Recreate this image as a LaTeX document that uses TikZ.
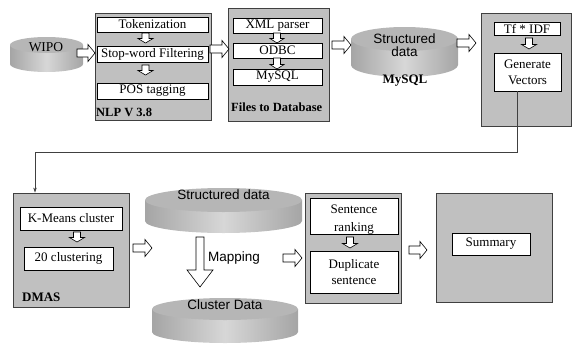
\documentclass[tikz,border=0pt]{standalone}
\usepackage{fontspec}
\setmainfont{Liberation Serif}
\setsansfont{Liberation Sans}
\usetikzlibrary{arrows.meta}
\definecolor{panelgray}{RGB}{192,192,192}
\definecolor{paneledge}{RGB}{64,64,64}
\definecolor{cylside}{RGB}{165,165,165}
\definecolor{cylmid}{RGB}{215,215,215}
\definecolor{cyltop}{RGB}{182,182,182}
\newcommand\mycyl[5]{%
  \shade[left color=cylside,right color=cylside,middle color=cylmid]
    ({#1-#3},#2) -- ({#1-#3},#5) arc[start angle=180,end angle=0,x radius=#3,y radius=#4] -- ({#1+#3},#2) -- cycle;
  \fill[cyltop] (#1,#2) ellipse[x radius=#3,y radius=#4];
}
% horizontal block arrow: xa, xb, y, shaft half, head half, head length
\newcommand\harr[6]{%
  \draw[barrow] (#1,{#3-#4}) -- ({#2-#6},{#3-#4}) -- ({#2-#6},{#3-#5}) -- (#2,#3)
    -- ({#2-#6},{#3+#5}) -- ({#2-#6},{#3+#4}) -- (#1,{#3+#4}) -- cycle;}
% vertical (downward) block arrow: x, ya, yb, shaft half, head half, head length
\newcommand\varr[6]{%
  \draw[barrow] ({#1-#4},#2) -- ({#1-#4},{#3-#6}) -- ({#1-#5},{#3-#6}) -- (#1,#3)
    -- ({#1+#5},{#3-#6}) -- ({#1+#4},{#3-#6}) -- ({#1+#4},#2) -- cycle;}
\tikzset{
  panel/.style={draw=paneledge,fill=panelgray,line width=0.9pt,inner sep=0pt},
  wbox/.style={draw=black,fill=white,line width=0.7pt,inner sep=0pt,align=center,
    font=\fontsize{13}{17}\selectfont},
  lbl/.style={font=\bfseries\fontsize{13}{15}\selectfont,inner sep=0pt},
  stxt/.style={font=\sffamily\fontsize{13.5}{13}\selectfont,inner sep=0pt,align=center},
  rtxt/.style={font=\fontsize{13.5}{15}\selectfont,inner sep=0pt},
  barrow/.style={draw=black,fill=white,line width=0.6pt,line join=miter},
  conn/.style={draw=black!75,line width=0.6pt,-{Stealth[length=5pt,width=3.5pt]}}
}
\begin{document}
\begin{tikzpicture}[x=1pt,y=-1pt]
\useasboundingbox (0,0) rectangle (572,343);
% cylinders
\mycyl{46.5}{45}{36.5}{8}{64}
\mycyl{404.5}{39}{53.5}{12}{65}
\mycyl{223.5}{200}{78.5}{12}{221}
\mycyl{225}{309}{73}{11}{332}
\node[rtxt] (wipo) at (46,47) {WIPO};
\node[stxt] (sd1) at (404.5,45.5) {Structured\\data};
\node[lbl] (mysqllbl) at (405,81) {MySQL};
\node[stxt] (sd2) at (223.5,195) {Structured data};
\node[stxt] (cd) at (225,305) {Cluster Data};
% NLP panel
\node[panel,minimum width=116pt,minimum height=107pt] (nlp) at (153,66.5) {};
\node[wbox,minimum width=111pt,minimum height=15pt] (tok) at (152.5,24.5) {Tokenization};
\node[wbox,minimum width=111pt,minimum height=16pt] (stop) at (152.5,54) {Stop-word Filtering};
\node[wbox,minimum width=111pt,minimum height=16pt] (pos) at (152.5,91) {POS tagging};
\node[lbl,anchor=west,font=\bfseries\fontsize{12.5}{14}\selectfont] (nlplbl) at (96,112) {NLP V 3.8};
\varr{145.5}{33}{43}{3.5}{7.5}{4.5}
\varr{145.5}{65}{75}{3.5}{7.5}{4.5}
% Files panel
\node[panel,minimum width=101pt,minimum height=113pt] (files) at (278.5,64.5) {};
\node[wbox,minimum width=89pt,minimum height=15pt] (xml) at (277.5,25.5) {XML parser};
\node[wbox,minimum width=89pt,minimum height=15pt] (odbc) at (277.5,50.5) {ODBC};
\node[wbox,minimum width=89pt,minimum height=16pt] (mysqlb) at (277.5,77) {MySQL};
\node[lbl,anchor=west,font=\bfseries\fontsize{12.5}{14}\selectfont] (fileslbl) at (231,107) {Files to Database};
\varr{277}{33}{43}{3.5}{7}{4.5}
\varr{277}{58}{69}{3.5}{7}{4.5}
% TF panel
\node[panel,minimum width=90pt,minimum height=113pt] (tfp) at (526,69.5) {};
\node[wbox,minimum width=66pt,minimum height=13pt] (tf) at (527,28.5) {Tf * IDF};
\node[wbox,minimum width=67pt,minimum height=38pt,font=\fontsize{13}{16}\selectfont] (gen) at (527.5,72) {Generate\\Vectors};
\varr{529}{38}{49}{3.5}{7.5}{4.5}
% horizontal block arrows top row
\harr{77}{95}{53}{4}{8.5}{7}
\harr{210}{229}{49}{4}{8.5}{7}
\harr{332}{351}{45}{4}{8.5}{7}
\harr{457}{476}{43}{4}{8.5}{7}
% DMAS panel
\node[panel,minimum width=116pt,minimum height=114pt] (dmas) at (71,250) {};
\node[wbox,minimum width=102pt,minimum height=23pt] (km) at (71,218.5) {K-Means cluster};
\node[wbox,minimum width=89pt,minimum height=23pt] (c20) at (68.5,258.5) {20 clustering};
\node[lbl,anchor=west] (dmaslbl) at (22,297) {DMAS};
\varr{77}{232}{242}{3.5}{7.5}{4.5}
% connector
\coordinate (c1) at (517,152);
\coordinate (c2) at (35,152);
\draw[conn] (gen.south -| c1) -- (c1) -- (c2) -- (c2 |- dmas.north);
% mapping
\varr{200}{237}{287}{4}{13}{17}
\node[stxt,anchor=west] (maptxt) at (208,258) {Mapping};
% sentence panel
\node[panel,minimum width=96pt,minimum height=110pt] (sentp) at (353,248) {};
\node[wbox,minimum width=88pt,minimum height=36pt] (rank) at (354,216) {};
\node[align=center,inner sep=0pt,font=\fontsize{13}{18}\selectfont] (ranktxt) at (354,220) {Sentence\\ranking};
\node[wbox,minimum width=88pt,minimum height=42pt,font=\fontsize{13}{16}\selectfont] (dup) at (354,272) {Duplicate\\sentence};
\varr{350}{237}{248}{3.5}{7.5}{4.5}
% summary panel
\node[panel,minimum width=116pt,minimum height=109pt] (sump) at (494,247.5) {};
\node[wbox,minimum width=78pt,minimum height=22pt] (summ) at (491,244) {Summary};
% bottom row arrows
\harr{133}{152}{248}{4}{8.5}{7}
\harr{283}{302}{258}{4}{8.5}{7}
\harr{409}{427}{250}{4}{8.5}{7}
\end{tikzpicture}
\end{document}
